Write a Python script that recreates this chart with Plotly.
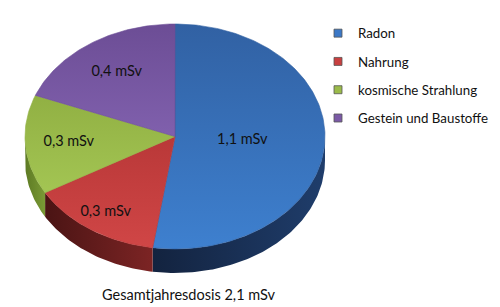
import math
import plotly.graph_objects as go

# ---- data ----
categories = ["Radon", "Nahrung", "kosmische Strahlung", "Gestein und Baustoffe"]
values = [1.1, 0.3, 0.3, 0.4]
labels = ["1,1 mSv", "0,3 mSv", "0,3 mSv", "0,4 mSv"]
total_label = "Gesamtjahresdosis 2,1 mSv"

# ---- styles ----
top_colors = [("#3e80cf", "#3161a3"), ("#d04646", "#b93838"),
              ("#a3c553", "#91b043"), ("#8060ad", "#6c4d95")]
side_colors = [("#13233f", "#1f3d6b"), ("#4a1414", "#7c2424"),
               ("#5d7a24", "#7a9a35"), ("#4f3570", "#6c4d95")]
legend_colors = ["#3b78c6", "#c84040", "#9bbb4a", "#7b5aa6"]
label_r = [0.45, 0.82, 0.71, 0.69]

W, H = 500, 307
cx, cy, rx, ry, depth = 175, 136.5, 150, 112.5, 24


def pt(f, dy=0.0):
    a = 2 * math.pi * f
    return cx + rx * math.sin(a), cy - ry * math.cos(a) + dy


def arc(f0, f1, dy=0.0, n=None):
    if n is None:
        n = max(2, int(abs(f1 - f0) * 360))
    xs, ys = [], []
    for i in range(n + 1):
        x, y = pt(f0 + (f1 - f0) * i / n, dy)
        xs.append(x)
        ys.append(y)
    return xs, ys


total = sum(values)
bounds = [0.0]
for v in values:
    bounds.append(bounds[-1] + v / total)

fig = go.Figure()

# side (visible front half: fractions 0.25..0.75)
for i in range(len(values)):
    f0, f1 = max(bounds[i], 0.25), min(bounds[i + 1], 0.75)
    if f1 <= f0:
        continue
    xt, yt = arc(f0, f1)
    xb, yb = arc(f1, f0, depth)
    c0, c1 = side_colors[i]
    fig.add_trace(go.Scatter(
        x=xt + xb + [xt[0]], y=yt + yb + [yt[0]], mode="lines",
        fill="toself", line=dict(width=0, color=c1),
        fillgradient=dict(type="horizontal", colorscale=[[0, c0], [1, c1]]),
        showlegend=False, hoverinfo="skip"))

# top faces
for i in range(len(values)):
    xa, ya = arc(bounds[i], bounds[i + 1])
    c0, c1 = top_colors[i]
    fig.add_trace(go.Scatter(
        x=[cx] + xa + [cx], y=[cy] + ya + [cy], mode="lines",
        fill="toself", line=dict(width=0.6, color=c1),
        fillgradient=dict(type="vertical", colorscale=[[0, c0], [1, c1]]),
        showlegend=False, hoverinfo="skip"))

# data labels
lx, ly = [], []
for i in range(len(values)):
    fm = (bounds[i] + bounds[i + 1]) / 2
    a = 2 * math.pi * fm
    lx.append(cx + rx * label_r[i] * math.sin(a))
    ly.append(cy - ry * label_r[i] * math.cos(a))
fig.add_trace(go.Scatter(
    x=lx, y=ly, mode="text", text=labels,
    textfont=dict(family="Lato", size=14.5, color="#111111"),
    showlegend=False, hoverinfo="skip"))

# legend entries
for i, name in enumerate(categories):
    fig.add_trace(go.Scatter(
        x=[None], y=[None], mode="markers", name=name, legendgroup=str(i),
        marker=dict(symbol="square", size=8, color=legend_colors[i],
                    line=dict(width=0.8, color="#555555"))))

fig.update_layout(
    width=W, height=H, margin=dict(l=0, r=0, t=0, b=0),
    paper_bgcolor="white", plot_bgcolor="white",
    xaxis=dict(range=[0, W], visible=False, fixedrange=True),
    yaxis=dict(range=[H, 0], visible=False, fixedrange=True),
    showlegend=True,
    legend=dict(x=318 / W, y=1 - 18 / H, xanchor="left", yanchor="top",
                font=dict(family="Lato", size=13.3, color="#111111"),
                tracegroupgap=8, bgcolor="rgba(0,0,0,0)"),
    annotations=[dict(x=189 / W, y=1 - 294 / H, xref="paper", yref="paper",
                      xanchor="center", yanchor="middle",
                      text=total_label, showarrow=False,
                      font=dict(family="Lato", size=14.5, color="#111111"))],
)

fig.write_html("out.html")
